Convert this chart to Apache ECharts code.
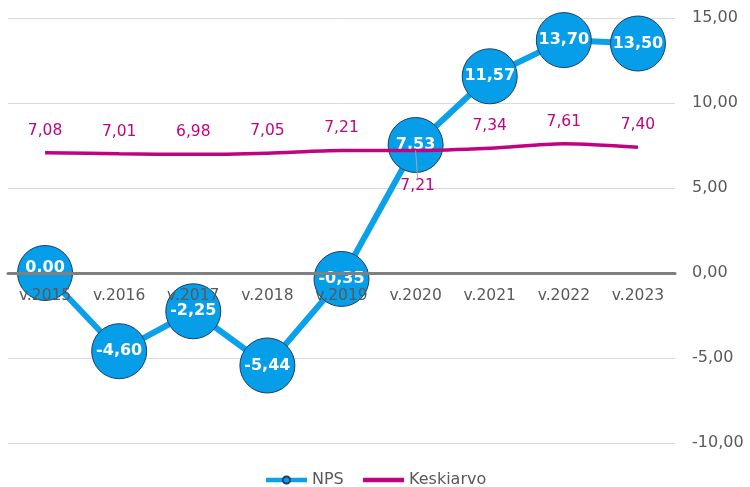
<!DOCTYPE html>
<html>
<head>
<meta charset="utf-8">
<script src="https://cdn.jsdelivr.net/npm/echarts@6/dist/echarts.min.js"></script>
<style>
  html, body { margin: 0; padding: 0; background: #fff; }
  #main { width: 750px; height: 487px; }
</style>
</head>
<body>
<div id="main"></div>
<script>
var years = ['v.2015', 'v.2016', 'v.2017', 'v.2018', 'v.2019', 'v.2020', 'v.2021', 'v.2022', 'v.2023'];
var npsValues = [0.00, -4.60, -2.25, -5.44, -0.35, 7.53, 11.57, 13.70, 13.50];
var keskiarvoValues = [7.08, 7.01, 6.98, 7.05, 7.21, 7.21, 7.34, 7.61, 7.40];
var movedLabel = 5; // v.2020 keskiarvo label sits under the line

var fmt = function (v) { return v.toFixed(2).replace('.', ','); };
var font = 'DejaVu Sans, Verdana, sans-serif';

var myChart = echarts.init(document.getElementById('main'));

var keskiData = keskiarvoValues.map(function (v, i) {
    if (i === movedLabel) {
        return { value: v, labelLine: { show: true } };
    }
    return v;
});

myChart.setOption({
    animation: false,
    grid: { left: 8, right: 75, top: 18, bottom: 44 },
    legend: {
        top: 467,
        left: 'center',
        itemWidth: 41,
        itemHeight: 9,
        itemGap: 17,
        textStyle: { color: '#595959', fontSize: 16, fontFamily: font },
        data: [
            { name: 'NPS', lineStyle: { width: 4.5 } },
            { name: 'Keskiarvo', itemStyle: { opacity: 0 }, lineStyle: { width: 4.5 } }
        ]
    },
    xAxis: {
        type: 'category',
        data: years,
        boundaryGap: true,
        z: 10,
        // keep the axis at value 0 (grid height 425, range 25 -> 0 is 170px above bottom)
        offset: -170,
        axisLine: { onZero: false, lineStyle: { color: '#808080', width: 3 } },
        axisTick: { show: false },
        axisLabel: { color: '#595959', fontSize: 15.5, fontFamily: font, margin: 15 }
    },
    yAxis: {
        type: 'value',
        position: 'right',
        min: -10,
        max: 15,
        interval: 5,
        axisLine: { show: false },
        axisTick: { show: false },
        splitLine: { lineStyle: { color: '#d9d9d9', width: 1 } },
        axisLabel: {
            color: '#595959', fontSize: 16, fontFamily: font, margin: 17,
            formatter: function (v) { return fmt(v); }
        }
    },
    series: [
        {
            name: 'NPS',
            type: 'line',
            data: npsValues,
            z: 3,
            symbol: 'circle',
            symbolSize: 55,
            lineStyle: { color: '#0aa0ea', width: 6 },
            itemStyle: { color: '#069ee8', borderColor: '#1d3d62', borderWidth: 1 },
            label: {
                show: true,
                position: 'inside',
                color: '#fff',
                fontWeight: 'bold',
                fontSize: 16,
                fontFamily: font,
                formatter: function (p) { return fmt(p.value); }
            },
            labelLayout: function (params) {
                // first label is lifted a little so the zero line does not cross it
                if (params.dataIndex === 0) {
                    return { dy: -5 };
                }
                return {};
            }
        },
        {
            name: 'Keskiarvo',
            type: 'line',
            data: keskiData,
            z: 4,
            smooth: 0.3,
            symbol: 'circle',
            symbolSize: 0.1,
            lineStyle: { color: '#c0047f', width: 3.5 },
            itemStyle: { color: '#c0047f' },
            label: {
                show: true,
                position: 'top',
                distance: 14,
                color: '#c0047f',
                fontSize: 15.5,
                fontFamily: font,
                formatter: function (p) { return fmt(p.value); }
            },
            labelLine: { show: false, lineStyle: { color: '#a6a6a6', width: 1 } },
            labelLayout: function (params) {
                if (params.dataIndex === movedLabel) {
                    return { dx: 2, dy: 58 };
                }
                return {};
            }
        }
    ]
});
</script>
</body>
</html>
